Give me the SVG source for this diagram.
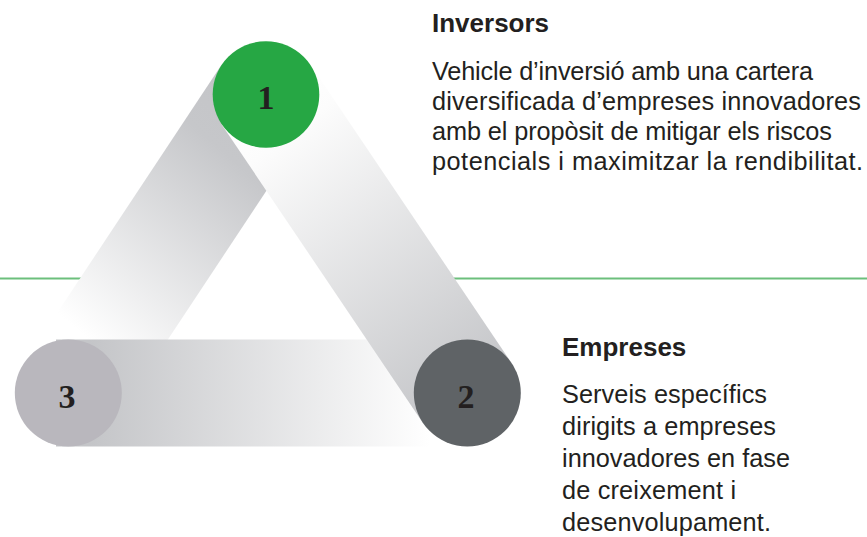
<svg xmlns="http://www.w3.org/2000/svg" width="867" height="537" viewBox="0 0 867 537">
  <style>
    .head { font-family: "Liberation Sans", Arial, sans-serif; font-weight: bold; font-size: 26px; fill: #231f20; }
    .body { font-family: "Liberation Sans", Arial, sans-serif; font-size: 25.3px; fill: #231f20; }
    .num { font-family: "Liberation Serif", "Times New Roman", serif; font-weight: bold; font-size: 34px; fill: #231f20; text-anchor: middle; }
    .rule { stroke: #6cbf7c; stroke-width: 2.2; fill: none; }
  </style>
  <defs>
    <linearGradient id="gA" gradientUnits="userSpaceOnUse" x1="280" y1="130" x2="50" y2="400">
      <stop offset="0" stop-color="#c4c5c8"/>
      <stop offset="0.15" stop-color="#c6c7ca"/>
      <stop offset="0.8" stop-color="#ffffff"/>
    </linearGradient>
    <linearGradient id="gB" gradientUnits="userSpaceOnUse" x1="250" y1="110" x2="470" y2="400">
      <stop offset="0" stop-color="#ffffff"/>
      <stop offset="0.12" stop-color="#fcfcfc"/>
      <stop offset="1" stop-color="#c4c5c8"/>
    </linearGradient>
    <linearGradient id="gC" gradientUnits="userSpaceOnUse" x1="90" y1="0" x2="430" y2="0">
      <stop offset="0" stop-color="#c4c5c8"/>
      <stop offset="1" stop-color="#ffffff"/>
    </linearGradient>
  </defs>

  <rect width="867" height="537" fill="#ffffff"/>

  <g id="rules">
    <line class="rule" x1="0" y1="278.5" x2="95" y2="278.5"/>
    <line class="rule" x1="440" y1="278.5" x2="867" y2="278.5"/>
  </g>

  <g id="connectors">
    <polygon id="band-1-3" points="221.39,64.96 310.61,124.04 112.91,422.54 23.69,363.46" fill="url(#gA)"/>
    <rect id="band-3-2" x="56" y="339.5" width="411.3" height="107" fill="url(#gC)"/>
    <polygon id="band-1-2" points="310.36,64.59 511.66,363.09 422.94,422.91 221.64,124.41" fill="url(#gB)"/>
  </g>

  <g id="node1">
    <circle cx="266" cy="94.5" r="53.3" fill="#26a744"/>
    <text class="num" x="266" y="109">1</text>
  </g>
  <g id="node2">
    <circle cx="467.3" cy="393" r="53.5" fill="#5f6366"/>
    <text class="num" x="466" y="408">2</text>
  </g>
  <g id="node3">
    <circle cx="68.3" cy="393" r="53.5" fill="#b9b7bd"/>
    <text class="num" x="67" y="408">3</text>
  </g>

  <g id="label-inversors">
    <text class="head" x="432" y="31.5">Inversors</text>
    <text class="body" x="432" y="80" textLength="381" lengthAdjust="spacing">Vehicle d’inversió amb una cartera</text>
    <text class="body" x="432" y="110" textLength="429" lengthAdjust="spacing">diversificada d’empreses innovadores</text>
    <text class="body" x="432" y="140" textLength="400" lengthAdjust="spacing">amb el propòsit de mitigar els riscos</text>
    <text class="body" x="432" y="170" textLength="431" lengthAdjust="spacing">potencials i maximitzar la rendibilitat.</text>
  </g>

  <g id="label-empreses">
    <text class="head" x="562" y="356">Empreses</text>
    <text class="body" x="562" y="403" textLength="205" lengthAdjust="spacing">Serveis específics</text>
    <text class="body" x="562" y="435" textLength="214" lengthAdjust="spacing">dirigits a empreses</text>
    <text class="body" x="562" y="467" textLength="228" lengthAdjust="spacing">innovadores en fase</text>
    <text class="body" x="562" y="498.5" textLength="174" lengthAdjust="spacing">de creixement i</text>
    <text class="body" x="562" y="530.5" textLength="209" lengthAdjust="spacing">desenvolupament.</text>
  </g>
</svg>
